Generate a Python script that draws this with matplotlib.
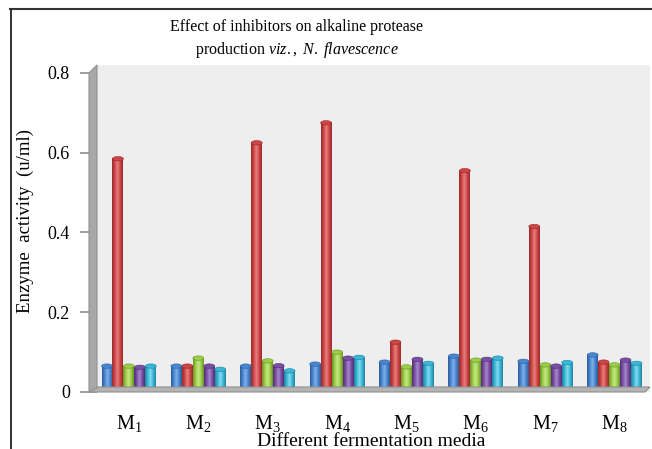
import numpy as np
import matplotlib
matplotlib.use("Agg")
import matplotlib.pyplot as plt
from matplotlib.patches import Ellipse, Polygon
from matplotlib.colors import LinearSegmentedColormap
from matplotlib.lines import Line2D

plt.rcParams['font.family'] = 'Liberation Serif'
plt.rcParams['mathtext.fontset'] = 'custom'
plt.rcParams['mathtext.rm'] = 'Liberation Serif'
plt.rcParams['mathtext.it'] = 'Liberation Serif:italic'

# fermentation media and the five series measured in each
media = ['1', '2', '3', '4', '5', '6', '7', '8']
series_blue = [0.065, 0.065, 0.065, 0.070, 0.075, 0.090, 0.077, 0.093]
series_red = [0.585, 0.065, 0.625, 0.675, 0.125, 0.555, 0.415, 0.075]
series_green = [0.065, 0.085, 0.078, 0.100, 0.063, 0.080, 0.068, 0.068]
series_purple = [0.062, 0.065, 0.066, 0.085, 0.082, 0.082, 0.065, 0.080]
series_cyan = [0.065, 0.057, 0.053, 0.087, 0.072, 0.085, 0.074, 0.072]
yticks = [0, 0.2, 0.4, 0.6, 0.8]
ytick_labels = ['0', '0.2', '0.4', '0.6', '0.8']

all_series = [series_blue, series_red, series_green, series_purple, series_cyan]
# (edge, body, highlight) shades for the cylinder look
palettes = [
    ('#2a5c9c', '#4a86cf', '#7fb0ea'),
    ('#9c2828', '#cc4646', '#e88080'),
    ('#6a9428', '#9ccc48', '#c4e888'),
    ('#4f2e72', '#7a50a4', '#a888cc'),
    ('#1d84a2', '#3cb6d6', '#86dcef'),
]

W, H = 652, 449
fig = plt.figure(figsize=(W / 100, H / 100), dpi=100)


def fx(px):
    return px / W


def fy(py):
    return 1 - py / H


ax = fig.add_axes([fx(97), fy(392), fx(650) - fx(97), fy(65) - fy(392)])
ax.set_facecolor('#eeeeee')
for s in ax.spines.values():
    s.set_visible(False)

n = len(all_series)
bw = 0.158
x = np.arange(len(media))
for i, (vals, pal) in enumerate(zip(all_series, palettes)):
    cmap = LinearSegmentedColormap.from_list('cyl', [pal[0], pal[1], pal[2], pal[1], pal[0]])
    grad = np.linspace(0, 1, 64).reshape(1, -1)
    for xi, v in zip(x, vals):
        x0 = xi + (i - (n - 1) / 2) * bw - bw / 2
        ax.imshow(grad, extent=[x0, x0 + bw, 0, v], aspect='auto', cmap=cmap,
                  origin='lower', zorder=3, interpolation='bilinear')
        ax.add_patch(Ellipse((x0 + bw / 2, v), bw, 0.011, facecolor=pal[1],
                             edgecolor=pal[0], lw=0.4, zorder=4))

ax.set_xlim(-0.46, 7.51)
ax.set_ylim(0, 0.82)
ax.set_xticks(x)
ax.set_xticklabels([r'M$_{' + m + '}$' for m in media], fontsize=14.5)
ax.tick_params(axis='x', length=0, pad=15)
ax.set_yticks(yticks)
ax.set_yticklabels(ytick_labels, fontsize=13)
ax.tick_params(axis='y', length=12.5, width=1.2, color='#8c8c8c', pad=7, direction='out')

# side wall and floor
wall = Polygon([(fx(89), fy(392)), (fx(89), fy(73)), (fx(97), fy(65)), (fx(97), fy(388))],
               closed=True, transform=fig.transFigure, facecolor='#a8a8a8',
               edgecolor='#929292', lw=0.8, zorder=5)
fig.add_artist(wall)
floor = Polygon([(fx(89), fy(392)), (fx(645), fy(392)), (fx(650), fy(387)), (fx(97), fy(387))],
                closed=True, transform=fig.transFigure, facecolor='#b4b4b4',
                edgecolor='#909090', lw=0.8, zorder=2)
fig.add_artist(floor)

fig.text(fx(297), fy(27), 'Effect of inhibitors on alkaline protease',
         ha='center', va='center', fontsize=11.5)
fig.text(fx(297), fy(50), r'production $\it{viz.,\ N.\ flavescence}$',
         ha='center', va='center', fontsize=11.5)
fig.text(fx(25), fy(221), 'Enzyme  activity  (u/ml)', rotation=90,
         ha='center', va='center', fontsize=13.5)
fig.text(fx(371), fy(441), 'Different fermentation media',
         ha='center', va='center', fontsize=14)

# outer frame
fig.add_artist(Line2D([fx(11), fx(11)], [fy(9), 0], color='#222222', lw=1.3))
fig.add_artist(Line2D([fx(10), 1], [fy(9), fy(9)], color='#333333', lw=1.5))

fig.savefig('out.png', dpi=100)
